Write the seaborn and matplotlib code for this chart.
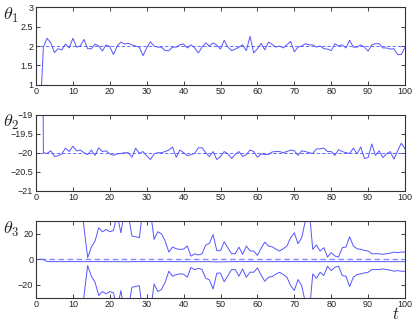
import numpy as np
import pandas as pd
import seaborn as sns
import matplotlib.pyplot as plt

# time steps and parameter estimates
t = list(range(1, 101))

theta1 = [0.0, 1.97, 2.2, 2.08, 1.83, 1.93, 1.9, 2.05, 1.95, 2.2,
          1.97, 2.0, 2.17, 1.93, 1.93, 2.05, 2.0, 1.87, 2.03, 1.98,
          1.78, 2.0, 2.1, 2.05, 2.07, 2.03, 2.0, 1.97, 1.75, 1.95,
          2.11, 2.0, 1.97, 1.97, 1.88, 1.88, 1.97, 1.97, 2.03, 2.05,
          1.95, 2.03, 1.95, 1.82, 1.97, 2.08, 2.0, 2.08, 2.02, 1.92,
          2.15, 1.97, 1.88, 1.92, 1.97, 2.03, 1.88, 2.25, 1.82, 1.93,
          2.07, 1.9, 2.1, 2.04, 1.97, 2.0, 1.95, 2.03, 2.12, 1.85,
          1.97, 2.0, 2.06, 2.03, 2.03, 1.97, 2.0, 1.93, 1.92, 1.88,
          2.06, 2.0, 2.03, 1.95, 2.15, 1.97, 1.97, 2.03, 1.97, 1.87,
          2.03, 2.06, 2.06, 1.95, 1.95, 1.92, 1.93, 1.78, 1.78, 1.97]

theta2 = [0.0, -20.0, -20.02, -19.95, -20.1, -20.08, -20.03, -19.88, -19.97, -19.83,
          -19.95, -19.93, -20.0, -20.05, -19.93, -20.07, -19.87, -19.97, -19.95, -20.03,
          -20.07, -20.03, -20.02, -20.0, -20.0, -20.12, -19.88, -20.02, -19.97, -20.08,
          -20.18, -20.03, -20.0, -20.0, -19.97, -19.93, -19.85, -20.12, -19.93, -20.0,
          -20.08, -20.05, -20.02, -19.87, -19.87, -20.0, -20.1, -19.97, -20.18, -20.1,
          -19.97, -20.03, -20.15, -20.05, -19.97, -20.1, -20.05, -19.93, -19.97, -20.12,
          -20.03, -20.05, -20.05, -19.98, -19.97, -19.97, -20.0, -19.97, -19.93, -19.95,
          -20.07, -19.95, -19.97, -20.0, -20.02, -19.9, -19.9, -19.88, -19.97, -19.97,
          -20.07, -19.92, -19.97, -20.0, -20.02, -19.88, -20.03, -19.85, -20.15, -20.13,
          -19.77, -20.07, -19.95, -20.13, -20.03, -19.97, -20.17, -19.95, -19.75, -19.9]

theta3 = [0.0, 0.0, -1.7, -1.8, -1.8, -1.8, -1.8, -1.8, -1.8, -1.8,
          -1.8, -1.8, -1.8, -1.8, -1.8, -1.8, -1.8, -1.8, -1.8, -1.8,
          -1.8, -1.8, -1.8, -1.9, -1.9, -1.8, -1.8, -1.8, -1.8, -1.8,
          -1.8, -1.8, -1.8, -1.8, -1.8, -1.8, -1.8, -1.8, -1.8, -1.8,
          -1.8, -1.9, -1.9, -1.8, -1.8, -1.8, -1.8, -1.9, -2.0, -2.0,
          -1.9, -1.9, -1.8, -1.8, -1.8, -1.8, -1.8, -1.7, -1.8, -1.8,
          -1.8, -1.8, -1.8, -1.8, -1.8, -1.8, -1.8, -1.8, -1.8, -1.8,
          -1.8, -1.8, -1.8, -1.8, -1.8, -1.8, -1.8, -1.8, -1.8, -1.8,
          -1.8, -1.8, -1.8, -1.8, -1.8, -1.8, -1.8, -1.8, -1.8, -1.8,
          -1.8, -1.8, -1.8, -1.8, -1.8, -1.8, -1.8, -1.8, -1.8, -1.8]

# half width of the confidence band around theta3
theta3_hw = [60, 60, 60, 60, 60, 60, 60, 60, 60, 60,
             60, 60, 26.8, 3.1, 11.4, 16.1, 26.5, 23.4, 25.2, 23.4,
             24.4, 37, 22.6, 40, 37, 20, 19.5, 18.7, 42, 47,
             40, 17.4, 23.4, 21.8, 16.1, 7.5, 11.4, 10.1, 9.6, 9.8,
             12.2, 4.4, 6.2, 5.2, 6.2, 13, 14.3, 21.3, 8.8, 8.8,
             15.6, 10.9, 6.2, 6.2, 11.4, 5.7, 12.2, 8.3, 8.3, 4.9,
             10.4, 15.3, 12.2, 11.6, 9.8, 8.3, 10.1, 12.2, 18.7, 22.6,
             14, 18.7, 32, 42, 9.6, 13, 8.3, 10.9, 3.6, 7,
             4.4, 3.6, 10.9, 11.4, 19.5, 12.2, 10.1, 9.6, 8.8, 8.3,
             6.2, 6.2, 6.2, 5.7, 6.2, 6.7, 7.5, 7, 7.5, 7.5]

theta_true = [2, -20, 0]
labels = [r'$\theta_1$', r'$\theta_2$', r'$\theta_3$']
ylims = [(1, 3), (-21, -19), (-30, 30)]
yticks = [[1, 1.5, 2, 2.5, 3], [-21, -20.5, -20, -19.5, -19], [-20, 0, 20]]
yticklabels = [['1', '1.5', '2', '2.5', '3'],
               ['\u221221', '\u221220.5', '\u221220', '\u221219.5', '\u221219'],
               ['\u221220', '0', '20']]

sns.set_style("ticks")
plt.rcParams['font.family'] = ['Liberation Sans', 'DejaVu Sans']
plt.rcParams['mathtext.fontset'] = 'cm'

blue = '#5555ff'
fig = plt.figure(figsize=(4.15, 3.22), dpi=100)
W, H = 415, 322
boxes = [(7.3, 84.7), (114.7, 190.7), (221, 297.7)]

est = [theta1, theta2, theta3]
for i, (top, bot) in enumerate(boxes):
    ax = fig.add_axes([36 / W, 1 - bot / H, 369 / W, (bot - top) / H])
    df = pd.DataFrame({'t': t, 'est': est[i]})
    df['true'] = theta_true[i]
    if i == 2:
        df['up'] = df['est'] + np.array(theta3_hw)
        df['lo'] = df['est'] - np.array(theta3_hw)
        sns.lineplot(data=df, x='t', y='true', ax=ax, color='#8888ff',
                     lw=1.0, linestyle=(0, (4, 2.5)))
        sns.lineplot(data=df, x='t', y='up', ax=ax, color=blue, lw=0.7)
        sns.lineplot(data=df, x='t', y='lo', ax=ax, color=blue, lw=0.7)
    else:
        sns.lineplot(data=df, x='t', y='true', ax=ax, color=blue,
                     lw=0.6, linestyle=(0, (4, 2.5)))
    sns.lineplot(data=df, x='t', y='est', ax=ax, color=blue, lw=0.7)

    ax.set_xlim(0, 100)
    ax.set_ylim(*ylims[i])
    ax.set_xticks(range(0, 101, 10))
    ax.set_yticks(yticks[i])
    ax.set_yticklabels(yticklabels[i])
    ax.set_xlabel('')
    ax.set_ylabel('')
    ax.tick_params(direction='in', length=3, width=0.6, top=True, right=True,
                   labelsize=6.5, pad=2, colors='#222222')
    for s in ax.spines.values():
        s.set_visible(True)
        s.set_linewidth(0.8)
        s.set_color('#333333')
    ax.grid(False)

    fig.text(3 / W, 1 - (top + 8) / H, labels[i], fontsize=13,
             ha='left', va='center')

fig.text(392 / W, 1 - 314 / H, r'$t$', fontsize=12, ha='left', va='center')

fig.savefig('out.png', dpi=100)
